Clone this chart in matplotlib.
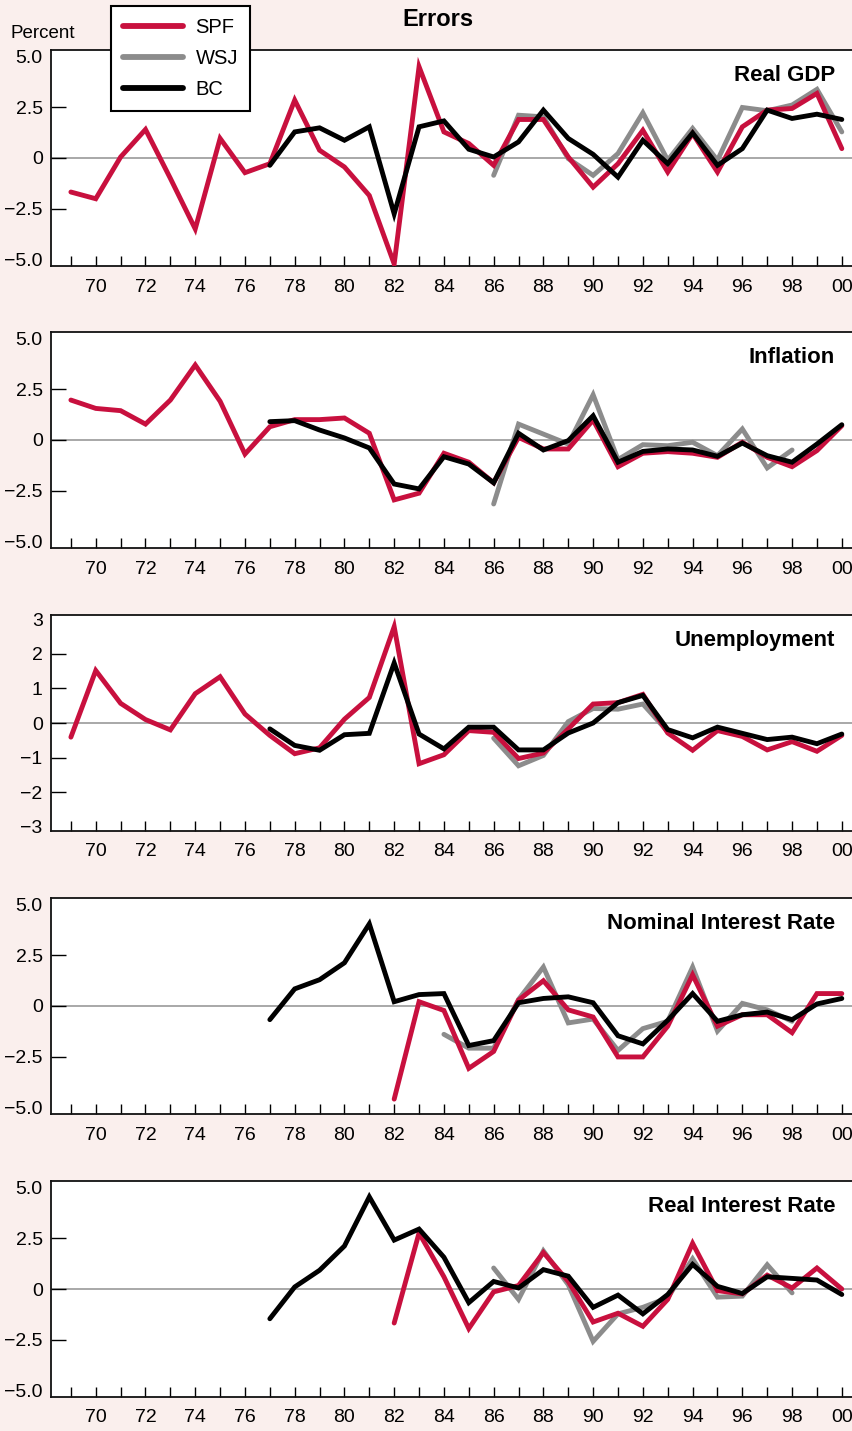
import matplotlib
matplotlib.use("Agg")
import matplotlib.pyplot as plt

plt.rcParams['font.family'] = ['Liberation Sans', 'DejaVu Sans']

# forecast errors by year (69 = 1969 ... 100 = 2000)
spf_years = list(range(69, 101))
bc_years = list(range(77, 101))

gdp_spf = [-1.67, -2.0, 0.05, 1.4, -1.0, -3.48, 0.96, -0.72, -0.28, 2.84, 0.38, -0.44,
           -1.84, -5.2, 4.48, 1.28, 0.71, -0.36, 1.89, 1.89, 0.05, -1.43, -0.28, 1.36,
           -0.69, 1.2, -0.69, 1.53, 2.35, 2.43, 3.17, 0.46]
gdp_wsj_years = list(range(86, 101))
gdp_wsj = [-0.85, 2.1, 2.02, -0.03, -0.85, 0.22, 2.22, -0.11, 1.45, -0.11, 2.48, 2.32,
           2.6, 3.37, 1.28]
gdp_bc = [-0.36, 1.28, 1.48, 0.87, 1.53, -2.74, 1.53, 1.82, 0.43, 0.05, 0.79, 2.35,
          0.96, 0.18, -0.94, 0.87, -0.28, 1.23, -0.36, 0.46, 2.35, 1.94, 2.15, 1.89]

infl_spf = [1.96, 1.55, 1.44, 0.78, 1.96, 3.68, 1.9, -0.69, 0.65, 1.0, 1.0, 1.08,
            0.33, -2.94, -2.61, -0.65, -1.09, -2.1, 0.13, -0.44, -0.44, 0.98, -1.31, -0.65,
            -0.57, -0.65, -0.85, -0.11, -0.85, -1.31, -0.52, 0.7]
infl_wsj_years = list(range(86, 99))
infl_wsj = [-3.14, 0.78, 0.29, -0.2, 2.22, -0.96, -0.23, -0.28, -0.11, -0.77, 0.54, -1.37,
            -0.49]
infl_bc = [0.9, 0.95, 0.49, 0.1, -0.39, -2.16, -2.4, -0.82, -1.18, -2.1, 0.33, -0.49,
           -0.03, 1.19, -1.09, -0.56, -0.44, -0.49, -0.8, -0.15, -0.77, -1.09, -0.2, 0.75]

unemp_spf = [-0.41, 1.52, 0.57, 0.1, -0.2, 0.85, 1.34, 0.26, -0.36, -0.89, -0.72, 0.11,
             0.74, 2.79, -1.18, -0.92, -0.22, -0.27, -1.03, -0.87, -0.17, 0.55, 0.59, 0.83,
             -0.29, -0.79, -0.22, -0.39, -0.78, -0.54, -0.82, -0.36]
unemp_wsj_years = list(range(86, 94))
unemp_wsj = [-0.44, -1.24, -0.94, 0.04, 0.42, 0.4, 0.55, -0.25]
unemp_bc = [-0.17, -0.65, -0.79, -0.34, -0.3, 1.74, -0.32, -0.75, -0.12, -0.12, -0.78, -0.78,
            -0.29, 0.0, 0.59, 0.8, -0.19, -0.43, -0.12, -0.3, -0.48, -0.41, -0.6, -0.32]

nom_spf_years = list(range(82, 101))
nom_spf = [-4.57, 0.21, -0.22, -3.06, -2.23, 0.29, 1.24, -0.19, -0.54, -2.5, -2.5, -0.99,
           1.53, -0.99, -0.43, -0.43, -1.31, 0.61, 0.61]
nom_wsj_years = list(range(84, 99))
nom_wsj = [-1.39, -2.07, -2.07, 0.32, 1.91, -0.83, -0.64, -2.18, -1.11, -0.75, 1.91, -1.23,
           0.13, -0.19, -0.75]
nom_bc = [-0.67, 0.84, 1.29, 2.12, 4.03, 0.21, 0.56, 0.61, -1.94, -1.7, 0.16, 0.37,
          0.45, 0.16, -1.46, -1.86, -0.7, 0.61, -0.75, -0.43, -0.3, -0.67, 0.1, 0.37]

real_spf_years = list(range(82, 101))
real_spf = [-1.67, 2.75, 0.6, -1.94, -0.14, 0.17, 1.79, 0.37, -1.62, -1.19, -1.83, -0.51,
            2.24, -0.08, -0.24, 0.68, 0.05, 1.03, 0.0]
real_wsj_years = list(range(86, 99))
real_wsj = [1.03, -0.51, 1.87, 0.21, -2.57, -1.22, -0.9, -0.43, 1.48, -0.4, -0.35, 1.19,
            -0.19]
real_bc = [-1.46, 0.1, 0.92, 2.11, 4.52, 2.4, 2.94, 1.56, -0.67, 0.37, 0.05, 0.95,
           0.63, -0.9, -0.3, -1.22, -0.27, 1.21, 0.13, -0.22, 0.6, 0.52, 0.44, -0.27]

panels = [
    ("Real GDP", (spf_years, gdp_spf), (gdp_wsj_years, gdp_wsj), (bc_years, gdp_bc)),
    ("Inflation", (spf_years, infl_spf), (infl_wsj_years, infl_wsj), (bc_years, infl_bc)),
    ("Unemployment", (spf_years, unemp_spf), (unemp_wsj_years, unemp_wsj), (bc_years, unemp_bc)),
    ("Nominal Interest Rate", (nom_spf_years, nom_spf), (nom_wsj_years, nom_wsj), (bc_years, nom_bc)),
    ("Real Interest Rate", (real_spf_years, real_spf), (real_wsj_years, real_wsj), (bc_years, real_bc)),
]

tick_years = list(range(69, 101))
year_labels = ["70", "72", "74", "76", "78", "80", "82", "84", "86", "88", "90", "92",
               "94", "96", "98", "00"]

BG = "#FAEFED"
SPF_C = "#C8103E"
WSJ_C = "#8C8C8C"
BC_C = "#000000"

W, H = 853, 1431
fig = plt.figure(figsize=(W / 100, H / 100), dpi=100)
fig.patch.set_facecolor(BG)

tops = [50, 332, 615, 898, 1181]
ax_h = 216
left = 51
LW = 3.5

lines = None
for top, (name, spf, wsj, bc) in zip(tops, panels):
    ax = fig.add_axes([left / W, 1 - (top + ax_h) / H, 1 - left / W, ax_h / H])
    ax.set_facecolor("white")
    ax.axhline(0, color="#999999", lw=1.2, zorder=1)
    l_wsj, = ax.plot(*wsj, color=WSJ_C, lw=LW, zorder=2, solid_capstyle="round",
                     solid_joinstyle="miter", label="WSJ")
    l_spf, = ax.plot(*spf, color=SPF_C, lw=LW, zorder=3, solid_capstyle="round",
                     solid_joinstyle="miter", label="SPF")
    l_bc, = ax.plot(*bc, color=BC_C, lw=LW, zorder=4, solid_capstyle="round",
                    solid_joinstyle="miter", label="BC")
    if lines is None:
        lines = [l_spf, l_wsj, l_bc]

    ax.set_xlim(68.2, 100.45)
    if name == "Unemployment":
        ax.set_ylim(-3.13, 3.13)
        ax.set_yticks([-2, -1, 0, 1, 2], labels=["\u22122", "\u22121", "0", "1", "2"])
        ax.set_yticks([-3, 3], labels=["\u22123", "3"], minor=True)
    else:
        ax.set_ylim(-5.3, 5.3)
        ax.set_yticks([-2.5, 0, 2.5], labels=["\u22122.5", "0", "2.5"])
        ax.set_yticks([-5, 5], labels=["\u22125.0", "5.0"], minor=True)

    ax.set_xticks(tick_years, labels=["" if y % 2 else year_labels[(y - 70) // 2]
                                      for y in tick_years])
    ax.tick_params(axis="x", direction="in", length=7, width=1, pad=9, labelsize=14,
                   colors="black")
    ax.tick_params(axis="y", which="major", direction="in", length=11, width=1, pad=6,
                   labelsize=14)
    ax.tick_params(axis="y", which="minor", length=0, pad=6, labelsize=14)

    ax.spines["right"].set_visible(False)
    for s in ("left", "top", "bottom"):
        ax.spines[s].set_linewidth(1.3)
        ax.spines[s].set_color("#111111")

    ax.text(0.9776, 0.88, name, transform=ax.transAxes, ha="right", va="center",
            fontsize=16, fontweight="bold")

fig.text(437.5 / W, 1 - 19 / H, "Errors", ha="center", va="center", fontsize=17,
         fontweight="bold")
fig.text(11 / W, 1 - 33 / H, "Percent", ha="left", va="center", fontsize=13.5)

leg = fig.legend(lines, ["SPF", "WSJ", "BC"], loc="upper left",
                 bbox_to_anchor=(111 / W, 1 - 6 / H), frameon=True, fancybox=False,
                 edgecolor="black", facecolor="white", framealpha=1, fontsize=14.5,
                 handlelength=3.0, handletextpad=0.6, labelspacing=0.6,
                 borderpad=0.6, borderaxespad=0)
leg.get_frame().set_linewidth(1.5)
for h in leg.get_lines():
    h.set_linewidth(4.2)

fig.savefig("out.png", dpi=100, facecolor=BG)
